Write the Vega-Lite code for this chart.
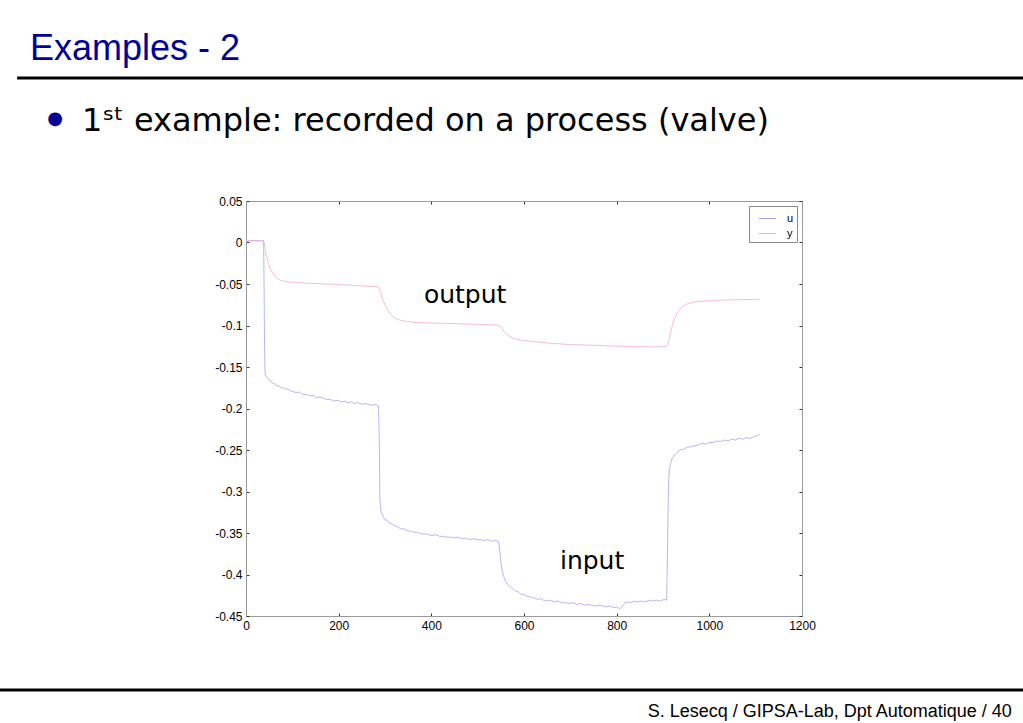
{
  "$schema": "https://vega.github.io/schema/vega-lite/v6.json",
  "width": 556,
  "height": 415,
  "autosize": {"type": "none"},
  "padding": {"left": 246, "top": 201, "right": 221, "bottom": 107},
  "background": "white",
  "title": {
    "text": "Examples - 2",
    "anchor": "start",
    "frame": "group",
    "dx": -216,
    "dy": 47,
    "offset": 55,
    "font": "Liberation Sans",
    "fontSize": 36,
    "fontWeight": "normal",
    "color": "#000099"
  },
  "datasets": {
    "u": [
      {"t":0,"v":0.002},{"t":10,"v":0.002},{"t":20,"v":0.0025},{"t":30,"v":0.002},{"t":38,"v":0.002},{"t":39,"v":-0.05},{"t":40,"v":-0.12},{"t":41,"v":-0.157},{"t":43,"v":-0.161},{"t":46,"v":-0.163},{"t":50,"v":-0.166},{"t":54,"v":-0.167},{"t":58,"v":-0.170},{"t":62,"v":-0.170},{"t":66,"v":-0.173},{"t":70,"v":-0.172},{"t":75,"v":-0.175},{"t":80,"v":-0.175},{"t":85,"v":-0.177},{"t":90,"v":-0.176},{"t":95,"v":-0.179},{"t":100,"v":-0.179},{"t":108,"v":-0.181},{"t":115,"v":-0.180},{"t":122,"v":-0.183},{"t":130,"v":-0.183},{"t":138,"v":-0.185},{"t":145,"v":-0.184},{"t":152,"v":-0.187},{"t":160,"v":-0.186},{"t":168,"v":-0.188},{"t":175,"v":-0.189},{"t":182,"v":-0.189},{"t":190,"v":-0.191},{"t":198,"v":-0.190},{"t":205,"v":-0.192},{"t":212,"v":-0.191},{"t":220,"v":-0.193},{"t":228,"v":-0.192},{"t":235,"v":-0.194},{"t":242,"v":-0.193},{"t":250,"v":-0.195},{"t":258,"v":-0.194},{"t":265,"v":-0.195},{"t":272,"v":-0.196},{"t":280,"v":-0.195},{"t":286,"v":-0.197},{"t":288,"v":-0.25},{"t":289,"v":-0.31},{"t":291,"v":-0.322},{"t":294,"v":-0.328},{"t":297,"v":-0.331},{"t":300,"v":-0.334},{"t":305,"v":-0.335},{"t":309,"v":-0.338},{"t":314,"v":-0.339},{"t":320,"v":-0.341},{"t":326,"v":-0.342},{"t":333,"v":-0.345},{"t":340,"v":-0.345},{"t":348,"v":-0.347},{"t":355,"v":-0.348},{"t":362,"v":-0.349},{"t":370,"v":-0.349},{"t":378,"v":-0.351},{"t":386,"v":-0.351},{"t":394,"v":-0.352},{"t":402,"v":-0.353},{"t":410,"v":-0.352},{"t":418,"v":-0.354},{"t":426,"v":-0.354},{"t":434,"v":-0.355},{"t":442,"v":-0.355},{"t":450,"v":-0.356},{"t":458,"v":-0.355},{"t":466,"v":-0.357},{"t":474,"v":-0.356},{"t":482,"v":-0.358},{"t":490,"v":-0.357},{"t":498,"v":-0.358},{"t":506,"v":-0.358},{"t":514,"v":-0.359},{"t":522,"v":-0.358},{"t":530,"v":-0.360},{"t":538,"v":-0.359},{"t":545,"v":-0.360},{"t":548,"v":-0.372},{"t":550,"v":-0.385},{"t":553,"v":-0.396},{"t":556,"v":-0.402},{"t":560,"v":-0.408},{"t":565,"v":-0.412},{"t":570,"v":-0.415},{"t":576,"v":-0.417},{"t":582,"v":-0.420},{"t":588,"v":-0.421},{"t":594,"v":-0.424},{"t":600,"v":-0.424},{"t":607,"v":-0.426},{"t":614,"v":-0.427},{"t":621,"v":-0.428},{"t":628,"v":-0.430},{"t":635,"v":-0.429},{"t":642,"v":-0.431},{"t":650,"v":-0.432},{"t":658,"v":-0.431},{"t":666,"v":-0.433},{"t":674,"v":-0.432},{"t":682,"v":-0.434},{"t":690,"v":-0.434},{"t":698,"v":-0.435},{"t":706,"v":-0.434},{"t":714,"v":-0.436},{"t":722,"v":-0.435},{"t":730,"v":-0.437},{"t":738,"v":-0.436},{"t":746,"v":-0.437},{"t":754,"v":-0.438},{"t":762,"v":-0.437},{"t":770,"v":-0.438},{"t":778,"v":-0.439},{"t":786,"v":-0.438},{"t":794,"v":-0.440},{"t":800,"v":-0.439},{"t":806,"v":-0.441},{"t":810,"v":-0.440},{"t":814,"v":-0.437},{"t":818,"v":-0.434},{"t":824,"v":-0.433},{"t":830,"v":-0.434},{"t":838,"v":-0.432},{"t":846,"v":-0.433},{"t":854,"v":-0.432},{"t":862,"v":-0.433},{"t":870,"v":-0.431},{"t":878,"v":-0.432},{"t":886,"v":-0.431},{"t":894,"v":-0.432},{"t":902,"v":-0.430},{"t":908,"v":-0.431},{"t":910,"v":-0.36},{"t":912,"v":-0.29},{"t":914,"v":-0.272},{"t":917,"v":-0.265},{"t":920,"v":-0.260},{"t":925,"v":-0.256},{"t":930,"v":-0.253},{"t":937,"v":-0.250},{"t":944,"v":-0.249},{"t":952,"v":-0.247},{"t":960,"v":-0.246},{"t":968,"v":-0.245},{"t":976,"v":-0.244},{"t":984,"v":-0.242},{"t":992,"v":-0.243},{"t":1000,"v":-0.241},{"t":1008,"v":-0.241},{"t":1016,"v":-0.239},{"t":1024,"v":-0.240},{"t":1032,"v":-0.238},{"t":1040,"v":-0.239},{"t":1048,"v":-0.237},{"t":1056,"v":-0.238},{"t":1064,"v":-0.236},{"t":1072,"v":-0.237},{"t":1080,"v":-0.235},{"t":1088,"v":-0.236},{"t":1096,"v":-0.234},{"t":1102,"v":-0.233},{"t":1109,"v":-0.231}
    ],
    "y": [
      {"t":0,"v":0.002},{"t":20,"v":0.002},{"t":38,"v":0.002},{"t":40,"v":-0.002},{"t":42,"v":-0.010},{"t":44,"v":-0.016},{"t":47,"v":-0.023},{"t":50,"v":-0.028},{"t":54,"v":-0.033},{"t":58,"v":-0.037},{"t":63,"v":-0.041},{"t":68,"v":-0.0435},{"t":74,"v":-0.0455},{"t":82,"v":-0.0467},{"t":95,"v":-0.0477},{"t":110,"v":-0.0483},{"t":130,"v":-0.049},{"t":155,"v":-0.0496},{"t":180,"v":-0.0502},{"t":210,"v":-0.051},{"t":240,"v":-0.052},{"t":265,"v":-0.0527},{"t":285,"v":-0.0533},{"t":288,"v":-0.056},{"t":291,"v":-0.061},{"t":295,"v":-0.068},{"t":300,"v":-0.075},{"t":305,"v":-0.081},{"t":311,"v":-0.086},{"t":317,"v":-0.089},{"t":325,"v":-0.092},{"t":335,"v":-0.094},{"t":348,"v":-0.0953},{"t":362,"v":-0.0962},{"t":380,"v":-0.0966},{"t":405,"v":-0.0971},{"t":432,"v":-0.0975},{"t":460,"v":-0.098},{"t":490,"v":-0.0985},{"t":520,"v":-0.099},{"t":545,"v":-0.0995},{"t":549,"v":-0.101},{"t":553,"v":-0.104},{"t":558,"v":-0.108},{"t":564,"v":-0.111},{"t":570,"v":-0.1135},{"t":578,"v":-0.1155},{"t":588,"v":-0.117},{"t":600,"v":-0.118},{"t":615,"v":-0.119},{"t":630,"v":-0.120},{"t":650,"v":-0.121},{"t":675,"v":-0.122},{"t":700,"v":-0.123},{"t":730,"v":-0.1235},{"t":760,"v":-0.124},{"t":792,"v":-0.1248},{"t":830,"v":-0.1253},{"t":870,"v":-0.1258},{"t":895,"v":-0.1255},{"t":907,"v":-0.1255},{"t":910,"v":-0.123},{"t":913,"v":-0.117},{"t":916,"v":-0.109},{"t":920,"v":-0.100},{"t":924,"v":-0.093},{"t":928,"v":-0.088},{"t":933,"v":-0.083},{"t":940,"v":-0.078},{"t":948,"v":-0.075},{"t":957,"v":-0.073},{"t":970,"v":-0.0715},{"t":990,"v":-0.0705},{"t":1010,"v":-0.0698},{"t":1040,"v":-0.0692},{"t":1070,"v":-0.0688},{"t":1109,"v":-0.0684}
    ],
    "notes": [
      {"label": "output", "t": 473, "v": -0.0729},
      {"label": "input", "t": 747, "v": -0.3934}
    ]
  },
  "layer": [
    {
      "data": {"name": "u"},
      "mark": {"type": "line", "strokeWidth": 0.8, "clip": true},
      "encoding": {
        "x": {"field": "t", "type": "quantitative", "scale": {"domain": [0, 1200], "nice": false, "zero": false},
              "axis": {"orient": "bottom", "values": [0,200,400,600,800,1000,1200], "labelExpr": "'' + datum.value", "title": null, "labelPadding": 7}},
        "y": {"field": "v", "type": "quantitative", "scale": {"domain": [-0.45, 0.05], "nice": false, "zero": false},
              "axis": {"orient": "left", "values": [0.05,0,-0.05,-0.1,-0.15,-0.2,-0.25,-0.3,-0.35,-0.4,-0.45], "labelExpr": "'' + datum.value", "title": null, "labelPadding": 7}},
        "color": {"datum": "u", "type": "nominal",
                  "scale": {"domain": ["u", "y"], "range": ["#a4a4f0", "#f2adc4"]},
                  "legend": {"title": null, "orient": "top-right", "offset": 5}}
      }
    },
    {
      "data": {"name": "y"},
      "mark": {"type": "line", "strokeWidth": 0.8, "clip": true},
      "encoding": {
        "x": {"field": "t", "type": "quantitative", "scale": {"domain": [0, 1200], "nice": false, "zero": false}, "axis": null},
        "y": {"field": "v", "type": "quantitative", "scale": {"domain": [-0.45, 0.05], "nice": false, "zero": false}, "axis": null},
        "color": {"datum": "y", "type": "nominal"}
      }
    },
    {
      "data": {"name": "notes"},
      "mark": {"type": "text", "font": "DejaVu Sans", "fontSize": 25, "color": "black", "align": "center", "baseline": "alphabetic"},
      "encoding": {
        "x": {"field": "t", "type": "quantitative", "scale": {"domain": [0, 1200], "nice": false, "zero": false},
              "axis": {"orient": "top", "values": [0,200,400,600,800,1000,1200], "labels": false, "title": null}},
        "y": {"field": "v", "type": "quantitative", "scale": {"domain": [-0.45, 0.05], "nice": false, "zero": false},
              "axis": {"orient": "right", "values": [0.05,0,-0.05,-0.1,-0.15,-0.2,-0.25,-0.3,-0.35,-0.4,-0.45], "labels": false, "title": null}},
        "text": {"field": "label"}
      }
    },
    {
      "data": {"values": [{"bullet": "●"}]},
      "mark": {"type": "text", "font": "DejaVu Sans", "fontSize": 18, "color": "#000099", "align": "center", "baseline": "middle"},
      "encoding": {
        "x": {"datum": -412, "type": "quantitative", "scale": {"domain": [0, 1200], "nice": false, "zero": false}, "axis": null},
        "y": {"datum": 0.1488, "type": "quantitative", "scale": {"domain": [-0.45, 0.05], "nice": false, "zero": false}, "axis": null},
        "text": {"field": "bullet"}
      }
    },
    {
      "data": {"values": [{"line": "1ˢᵗ example: recorded on a process (valve)"}]},
      "mark": {"type": "text", "font": "DejaVu Sans", "fontSize": 32, "color": "black", "align": "left", "baseline": "alphabetic"},
      "encoding": {
        "x": {"datum": -354, "type": "quantitative", "scale": {"domain": [0, 1200], "nice": false, "zero": false}, "axis": null},
        "y": {"datum": 0.1343, "type": "quantitative", "scale": {"domain": [-0.45, 0.05], "nice": false, "zero": false}, "axis": null},
        "text": {"field": "line"}
      }
    },
    {
      "data": {"values": [{"name": "header rule"}]},
      "mark": {"type": "rule", "color": "black", "strokeWidth": 3},
      "encoding": {
        "x": {"datum": -494, "type": "quantitative", "scale": {"domain": [0, 1200], "nice": false, "zero": false}, "axis": null},
        "x2": {"datum": 1677},
        "y": {"datum": 0.1982, "type": "quantitative", "scale": {"domain": [-0.45, 0.05], "nice": false, "zero": false}, "axis": null}
      }
    },
    {
      "data": {"values": [{"name": "footer rule"}]},
      "mark": {"type": "rule", "color": "black", "strokeWidth": 3},
      "encoding": {
        "x": {"datum": -531, "type": "quantitative", "scale": {"domain": [0, 1200], "nice": false, "zero": false}, "axis": null},
        "x2": {"datum": 1677},
        "y": {"datum": -0.5392, "type": "quantitative", "scale": {"domain": [-0.45, 0.05], "nice": false, "zero": false}, "axis": null}
      }
    },
    {
      "data": {"values": [{"footer": "S. Lesecq / GIPSA-Lab, Dpt Automatique / 40"}]},
      "mark": {"type": "text", "font": "Liberation Sans", "fontSize": 18, "color": "black", "align": "right", "baseline": "alphabetic"},
      "encoding": {
        "x": {"datum": 1653, "type": "quantitative", "scale": {"domain": [0, 1200], "nice": false, "zero": false}, "axis": null},
        "y": {"datum": -0.5717, "type": "quantitative", "scale": {"domain": [-0.45, 0.05], "nice": false, "zero": false}, "axis": null},
        "text": {"field": "footer"}
      }
    }
  ],
  "resolve": {"axis": {"x": "independent", "y": "independent"}},
  "config": {
    "view": {"stroke": "#9a9a9a", "strokeWidth": 1},
    "axis": {
      "grid": false,
      "domainColor": "#9a9a9a",
      "tickColor": "#333333",
      "tickSize": -3,
      "labelFlush": false,
      "labelFont": "Liberation Sans",
      "labelFontSize": 12,
      "labelColor": "black",
      "labelPadding": 5
    },
    "legend": {
      "strokeColor": "#888888",
      "fillColor": "white",
      "padding": 3,
      "symbolType": "stroke",
      "symbolSize": 300,
      "symbolOffset": 6,
      "labelOffset": 10,
      "symbolStrokeWidth": 1,
      "labelFont": "Liberation Sans",
      "labelFontSize": 11,
      "rowPadding": 0,
      "cornerRadius": 0
    }
  }
}
